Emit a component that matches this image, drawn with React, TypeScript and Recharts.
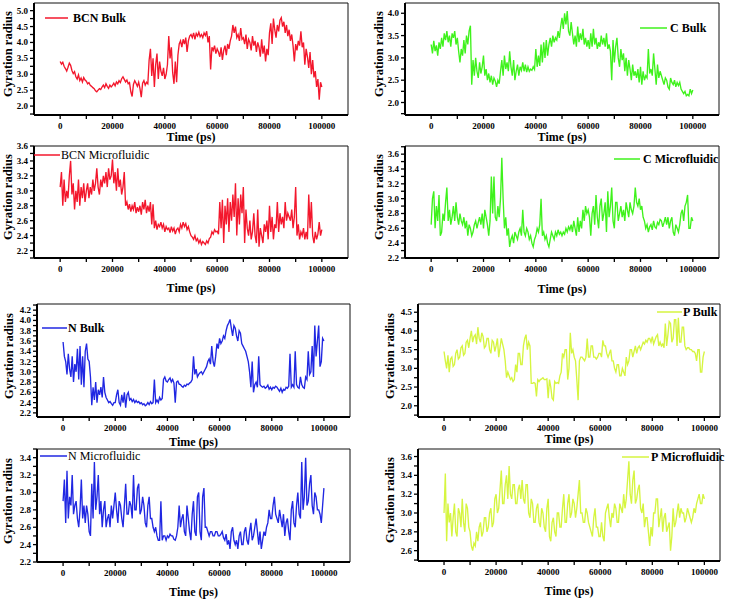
import { LineChart, Line, XAxis, YAxis, Legend, ReferenceArea, ReferenceLine } from 'recharts';

// sampling grid of the trajectories (ps)
const TIME_STEP_PS = 500;
const TIME_PS = Array.from({ length: 201 }, (_, i) => i * TIME_STEP_PS);
const TIME_TICKS = [0, 10000, 20000, 30000, 40000, 50000, 60000, 70000, 80000, 90000, 100000];

const BCN_BULK = [
  3.40, 3.32, 3.38, 3.25, 3.18, 3.10, 3.22, 3.35, 3.28, 3.12,
  3.02, 3.08, 2.92, 2.85, 2.98, 2.80, 2.88, 2.76, 2.90, 2.82,
  2.78, 2.70, 2.74, 2.65, 2.62, 2.58, 2.55, 2.48, 2.45, 2.50,
  2.55, 2.52, 2.60, 2.66, 2.58, 2.70, 2.62, 2.56, 2.66, 2.60,
  2.65, 2.72, 2.64, 2.76, 2.70, 2.80, 2.74, 2.86, 2.92, 2.84,
  2.76, 2.82, 2.70, 2.74, 2.45, 2.30, 2.68, 2.80, 2.72, 2.62,
  2.75, 2.55, 2.28, 2.72, 2.80, 2.66, 2.75, 2.70, 3.45, 3.80,
  2.95, 3.50, 2.60, 3.30, 3.65, 2.85, 3.40, 3.10, 2.95, 3.20,
  2.85, 3.00, 3.30, 4.20, 3.50, 3.85, 3.05, 2.70, 3.40, 2.75,
  3.60, 3.95, 4.05, 3.85, 4.10, 3.95, 4.15, 3.70, 4.05, 4.20,
  4.25, 4.15, 4.30, 4.10, 4.28, 4.20, 4.32, 4.18, 4.25, 4.15,
  4.30, 4.22, 4.35, 4.00, 4.20, 3.15, 3.85, 3.75, 3.90, 3.65,
  3.80, 3.70, 3.55, 3.85, 3.45, 3.75, 3.90, 3.60, 3.95, 3.80,
  4.05, 4.20, 4.55, 4.30, 4.50, 4.15, 4.25, 4.05, 4.45, 4.10,
  4.15, 3.95, 4.25, 3.80, 4.10, 4.00, 3.75, 4.20, 3.90, 4.05,
  3.70, 4.00, 3.85, 3.55, 4.10, 3.65, 3.90, 3.40, 3.80, 3.60,
  4.30, 4.60, 3.95, 4.75, 4.40, 4.15, 4.55, 4.35, 4.70, 4.78,
  4.50, 4.65, 4.30, 4.55, 4.20, 4.40, 4.05, 4.25, 3.90, 3.40,
  3.95, 3.75, 4.05, 3.90, 4.35, 3.85, 4.00, 3.30, 3.80, 3.55,
  3.20, 3.70, 3.00, 3.45, 2.90, 3.10, 2.60, 2.85, 2.20, 2.75,
  2.60,
];

const C_BULK = [
  3.30, 3.10, 3.38, 3.15, 3.28, 3.05, 3.35, 3.20, 3.45, 3.25,
  3.55, 3.40, 3.60, 3.35, 3.50, 3.25, 3.55, 3.45, 3.60, 3.30,
  3.45, 3.15, 2.90, 3.20, 3.05, 3.40, 3.10, 3.50, 3.30, 3.60,
  3.72, 2.40, 2.95, 2.60, 3.00, 2.70, 2.55, 2.90, 2.65, 2.80,
  3.05, 2.60, 2.75, 2.50, 2.65, 2.45, 2.60, 2.40, 2.55, 2.48,
  2.35, 2.50, 2.42, 2.70, 2.95, 2.60, 3.05, 2.75, 2.90, 2.70,
  3.15, 2.80, 2.60, 2.95, 2.50, 2.70, 2.85, 2.60, 2.80, 2.72,
  2.90, 2.70, 2.85, 2.68, 2.80, 2.70, 2.75, 2.72, 2.80, 2.74,
  3.20, 2.80, 3.05, 2.82, 3.30, 2.90, 3.35, 3.00, 3.40, 3.05,
  3.30, 3.45, 3.25, 3.50, 3.35, 3.45, 3.40, 3.60, 3.45, 3.70,
  3.90, 3.65, 4.00, 3.75, 4.05, 3.60, 3.50, 3.80, 3.55, 3.30,
  3.50, 3.25, 3.70, 3.35, 3.55, 3.40, 3.65, 3.30, 3.45, 3.25,
  3.40, 3.20, 3.55, 3.25, 3.65, 3.30, 3.45, 3.20, 3.35, 3.25,
  3.50, 3.30, 3.45, 3.25, 3.55, 3.20, 3.30, 3.15, 2.50, 3.40,
  2.90, 3.25, 3.45, 3.00, 2.80, 3.20, 2.95, 3.10, 2.70, 3.00,
  2.60, 2.95, 2.75, 2.50, 2.85, 2.60, 2.70, 2.55, 2.75, 2.45,
  2.80, 2.40, 2.70, 2.50, 2.60, 2.55, 3.20, 2.65, 2.75, 2.60,
  3.10, 2.75, 2.40, 2.85, 2.55, 2.70, 2.60, 2.50, 2.40, 2.55,
  2.50, 2.35, 2.30, 2.55, 2.45, 2.40, 2.50, 2.35, 2.45, 2.38,
  2.45, 2.30, 2.25, 2.20, 2.25, 2.15, 2.18, 2.15, 2.30, 2.20,
  2.28,
];

const BCN_MICRO = [
  3.05, 3.25, 2.80, 3.15, 2.85, 3.00, 2.90, 3.20, 3.40, 2.95,
  3.10, 2.75, 3.00, 2.85, 3.15, 2.80, 3.05, 2.90, 3.10, 2.85,
  3.00, 3.10, 2.90, 3.05, 2.95, 3.15, 3.00, 3.10, 3.30, 3.05,
  2.95, 3.15, 3.05, 3.20, 3.10, 3.25, 3.05, 3.30, 3.15, 3.20,
  3.42, 3.10, 3.25, 3.00, 3.30, 3.05, 3.15, 2.95, 3.05, 3.25,
  2.80, 2.85, 2.75, 2.82, 2.72, 2.80, 2.75, 2.85, 2.70, 2.78,
  2.72, 2.80, 2.68, 2.85, 2.75, 2.88, 2.70, 2.80, 2.72, 2.85,
  2.55, 2.82, 2.50, 2.60, 2.48, 2.55, 2.52, 2.58, 2.50, 2.55,
  2.45, 2.52, 2.48, 2.50, 2.44, 2.52, 2.46, 2.50, 2.42, 2.48,
  2.50, 2.45, 2.55, 2.50, 2.58, 2.52, 2.56, 2.48, 2.52, 2.45,
  2.40, 2.38, 2.35, 2.40, 2.33, 2.36, 2.30, 2.34, 2.28, 2.32,
  2.30, 2.28, 2.33, 2.30, 2.36, 2.38, 2.45, 2.42, 2.48, 2.45,
  2.46, 2.42, 2.85, 2.50, 2.88, 2.30, 2.80, 2.55, 2.90, 2.45,
  2.85, 2.60, 2.95, 2.65, 3.10, 2.40, 2.90, 2.55, 2.95, 2.70,
  3.05, 2.30, 2.75, 2.50, 2.40, 2.60, 2.35, 2.45, 2.70, 2.40,
  2.30, 2.75, 2.25, 2.50, 2.40, 2.30, 2.55, 2.45, 2.60, 2.35,
  2.80, 2.45, 2.65, 2.35, 2.55, 2.50, 2.85, 2.45, 2.70, 2.55,
  2.65, 2.50, 2.85, 2.60, 2.70, 2.65, 2.60, 2.75, 2.50, 2.65,
  3.05, 2.40, 2.55, 2.35, 2.45, 2.40, 2.50, 2.35, 2.45, 2.35,
  2.95, 2.50, 2.85, 2.40, 2.30, 2.45, 2.35, 2.42, 2.58, 2.40,
  2.48,
];

const C_MICRO = [
  2.65, 3.00, 3.10, 2.60, 2.90, 2.70, 3.05, 2.50, 2.55, 2.80,
  2.70, 2.95, 3.15, 2.70, 2.85, 2.65, 2.75, 2.90, 2.70, 2.95,
  2.75, 2.65, 2.80, 2.70, 2.65, 2.75, 2.60, 2.70, 2.50, 2.65,
  2.60, 2.50, 2.55, 2.65, 2.70, 2.60, 2.68, 2.75, 2.65, 2.80,
  2.60, 2.85, 2.75, 2.65, 2.50, 2.70, 3.30, 2.80, 3.30, 2.75,
  2.70, 2.90, 2.75, 3.00, 3.55, 3.00, 2.60, 2.75, 2.50, 2.60,
  2.35, 2.45, 2.50, 2.40, 2.55, 2.50, 2.45, 2.55, 2.60, 2.50,
  2.85, 2.55, 2.50, 2.60, 2.55, 2.45, 2.50, 2.40, 2.35, 2.45,
  2.50, 2.60, 2.55, 2.65, 3.00, 2.50, 2.55, 2.45, 2.50, 2.40,
  2.35, 2.45, 2.55, 2.50, 2.45, 2.55, 2.50, 2.58, 2.52, 2.55,
  2.50, 2.55, 2.52, 2.60, 2.55, 2.62, 2.58, 2.65, 2.55, 2.70,
  2.60, 2.50, 2.75, 2.55, 2.70, 2.60, 2.85, 2.70, 2.90, 2.80,
  2.85, 2.75, 2.50, 2.80, 2.90, 2.65, 3.05, 2.75, 2.60, 2.90,
  3.00, 2.70, 2.80, 2.95, 2.55, 3.10, 2.75, 2.90, 3.15, 2.70,
  2.60, 2.95, 2.95, 2.70, 2.80, 2.90, 2.75, 2.85, 2.70, 2.95,
  2.85, 2.75, 2.95, 2.85, 2.80, 2.90, 3.15, 2.95, 2.90, 3.00,
  2.85, 2.90, 2.75, 2.70, 2.60, 2.65, 2.55, 2.62, 2.65, 2.58,
  2.70, 2.62, 2.60, 2.68, 2.65, 2.72, 2.70, 2.62, 2.68, 2.75,
  2.65, 2.75, 2.60, 2.70, 2.75, 2.55, 2.50, 2.65, 2.60, 2.55,
  2.65, 2.80, 2.85, 2.70, 2.90, 2.95, 3.05, 2.60, 2.60, 2.75,
  2.70,
];

const N_BULK = [
  3.58, 3.30, 3.20, 2.95, 3.35, 3.05, 2.90, 3.30, 2.80, 3.15,
  3.00, 3.45, 2.85, 3.50, 2.75, 3.30, 2.70, 3.40, 3.55, 3.25,
  3.20, 2.90, 2.35, 2.70, 2.45, 2.80, 2.40, 2.65, 2.55, 2.70,
  2.50, 2.90, 2.60, 2.50, 2.45, 2.40, 2.42, 2.38, 2.35, 2.40,
  2.40, 2.55, 2.65, 2.40, 2.35, 2.55, 2.40, 2.60, 2.30, 2.55,
  2.60, 2.45, 2.48, 2.42, 2.46, 2.40, 2.44, 2.40, 2.42, 2.38,
  2.40, 2.36, 2.38, 2.34, 2.36, 2.40, 2.36, 2.42, 2.38, 2.40,
  2.85, 2.40, 2.45, 2.40, 2.50, 2.45, 2.48, 2.85, 2.90, 2.82,
  2.80, 2.85, 2.88, 2.80, 2.85, 2.78, 2.40, 2.80, 2.82, 2.76,
  2.75, 2.72, 2.70, 2.74, 2.72, 2.76, 2.75, 2.78, 2.80, 2.85,
  3.30, 2.95, 3.05, 2.90, 2.95, 2.98, 3.00, 2.95, 3.00, 3.05,
  3.10, 3.20, 3.25, 3.15, 3.50, 3.20, 3.10, 3.30, 3.55, 3.45,
  3.65, 3.55, 3.60, 3.70, 3.65, 3.80, 3.90, 3.95, 4.02, 3.85,
  3.70, 3.90, 3.85, 3.70, 3.60, 3.80, 3.75, 3.55, 3.50, 3.45,
  3.40, 3.30, 3.20, 3.00, 2.70, 3.20, 2.60, 2.75, 2.80, 2.70,
  3.30, 2.75, 2.72, 2.70, 2.72, 2.68, 2.70, 2.74, 2.66, 2.70,
  2.65, 2.70, 2.68, 2.72, 2.70, 2.66, 2.62, 2.68, 2.60, 2.66,
  2.64, 2.70, 2.68, 2.72, 3.35, 2.70, 2.75, 2.70, 3.40, 2.75,
  2.70, 2.68, 2.90, 2.75, 2.70, 2.68, 2.90, 2.85, 3.40, 2.95,
  3.00, 3.50, 2.90, 3.90, 3.30, 3.60, 3.90, 3.10, 3.20, 3.65,
  3.60,
];

const P_BULK = [
  3.45, 3.20, 3.00, 3.35, 2.90, 3.25, 3.30, 3.05, 3.10, 3.40,
  3.50, 3.25, 3.30, 3.55, 3.60, 3.35, 3.40, 3.70, 3.75, 3.55,
  3.80, 4.00, 3.70, 3.85, 3.90, 3.65, 4.10, 3.80, 3.70, 3.95,
  3.85, 3.55, 3.60, 3.80, 3.80, 3.50, 3.40, 3.75, 3.70, 3.45,
  3.60, 3.80, 3.30, 3.55, 3.80, 3.65, 3.50, 3.20, 2.75, 2.90,
  2.80, 2.70, 2.75, 2.65, 2.70, 3.10, 2.90, 3.40, 3.40, 3.10,
  3.10, 3.60, 3.80, 3.90, 3.50, 3.70, 3.60, 2.60, 2.60, 2.62,
  2.60, 2.25, 2.70, 2.65, 2.70, 2.72, 2.75, 2.70, 2.70, 2.72,
  2.20, 2.70, 2.50, 2.20, 2.15, 2.65, 2.60, 2.62, 2.60, 2.80,
  2.90, 3.40, 3.30, 3.50, 3.50, 2.70, 3.00, 3.95, 3.40, 3.50,
  3.30, 3.20, 2.70, 2.15, 3.20, 3.30, 3.30, 3.25, 3.20, 3.30,
  3.80, 3.30, 3.30, 3.60, 3.60, 3.30, 3.30, 3.25, 3.30, 3.40,
  3.40, 3.30, 3.75, 3.60, 3.60, 3.40, 3.30, 3.40, 3.50, 3.20,
  3.20, 3.00, 2.90, 3.10, 3.10, 2.80, 2.80, 3.00, 2.90, 2.80,
  3.30, 3.10, 3.20, 3.50, 3.50, 3.30, 3.45, 3.60, 3.40, 3.55,
  3.60, 3.50, 3.60, 3.70, 3.65, 3.75, 3.70, 3.80, 3.80, 3.70,
  3.85, 3.65, 3.75, 3.85, 3.90, 3.60, 3.70, 3.60, 3.65, 3.55,
  4.20, 3.60, 3.90, 4.25, 4.20, 3.70, 3.80, 4.30, 4.30, 3.60,
  4.35, 3.70, 3.70, 4.10, 4.10, 3.60, 3.50, 3.55, 3.55, 3.50,
  3.50, 3.45, 3.45, 3.40, 3.20, 3.50, 3.50, 2.90, 2.90, 3.30,
  3.45,
];

const N_MICRO = [
  2.90, 3.15, 2.65, 3.25, 2.70, 2.95, 2.85, 3.20, 2.75, 2.85,
  2.90, 2.70, 2.60, 2.80, 3.15, 2.70, 2.85, 2.65, 2.85, 2.75,
  2.55, 2.50, 3.10, 2.70, 3.35, 2.80, 2.95, 3.20, 2.75, 2.90,
  2.60, 2.80, 2.90, 2.60, 2.70, 2.75, 2.60, 2.85, 2.70, 2.85,
  3.00, 2.80, 2.65, 2.90, 2.85, 2.70, 2.60, 2.85, 3.10, 2.75,
  2.75, 2.90, 2.85, 2.70, 3.20, 2.80, 2.80, 3.05, 3.10, 2.75,
  2.80, 2.95, 2.85, 2.65, 2.60, 2.85, 2.95, 2.70, 2.70, 2.60,
  2.55, 2.60, 2.50, 2.45, 2.45, 2.90, 2.45, 2.50, 2.50, 2.45,
  2.50, 2.48, 2.52, 2.50, 2.50, 2.46, 2.45, 2.50, 2.60, 2.85,
  2.60, 2.70, 2.75, 2.55, 2.50, 2.85, 2.70, 2.55, 2.45, 2.75,
  2.90, 2.55, 2.50, 2.95, 3.00, 2.55, 2.45, 2.95, 3.05, 2.60,
  2.60, 2.55, 2.50, 2.55, 2.55, 2.50, 2.50, 2.55, 2.55, 2.50,
  2.50, 2.52, 2.55, 2.48, 2.45, 2.52, 2.40, 2.45, 2.35, 2.55,
  2.60, 2.45, 2.40, 2.45, 2.35, 2.50, 2.55, 2.40, 2.40, 2.55,
  2.60, 2.45, 2.40, 2.55, 2.65, 2.45, 2.50, 2.60, 2.70, 2.55,
  2.40, 2.55, 2.35, 2.45, 2.55, 2.50, 2.60, 2.65, 2.80, 2.70,
  2.70, 2.85, 2.95, 2.75, 2.70, 2.65, 2.80, 2.70, 2.60, 2.75,
  2.50, 2.65, 2.70, 2.55, 2.45, 2.80, 2.90, 2.65, 2.60, 2.85,
  3.00, 2.75, 2.70, 3.35, 2.80, 2.95, 3.40, 2.85, 2.90, 3.10,
  3.20, 2.85, 2.75, 3.00, 2.95, 2.80, 2.80, 2.75, 2.65, 2.85,
  3.05,
];

const P_MICRO = [
  3.00, 3.42, 2.70, 3.10, 2.90, 3.00, 2.75, 2.95, 3.10, 2.80,
  2.75, 3.05, 3.00, 2.85, 3.15, 2.90, 2.80, 3.10, 3.05, 2.85,
  2.80, 2.65, 2.60, 2.68, 2.65, 2.80, 2.70, 2.85, 2.90, 2.75,
  2.80, 2.95, 2.95, 2.80, 2.85, 3.00, 3.05, 2.85, 2.90, 3.15,
  3.20, 3.00, 3.05, 3.25, 3.45, 3.10, 3.10, 3.30, 3.40, 3.15,
  3.50, 3.20, 3.15, 3.30, 3.30, 3.10, 3.10, 3.25, 3.30, 3.15,
  3.35, 3.15, 3.10, 3.30, 3.30, 3.00, 2.95, 3.15, 3.10, 2.90,
  2.90, 3.05, 3.10, 2.90, 2.85, 3.05, 3.00, 2.85, 2.80, 3.05,
  3.15, 2.75, 2.70, 2.90, 2.95, 2.80, 2.75, 3.00, 3.00, 2.85,
  2.85, 3.05, 3.20, 2.90, 2.90, 3.10, 3.20, 2.95, 3.00, 3.15,
  3.10, 2.95, 3.05, 3.20, 3.35, 3.00, 3.00, 2.90, 2.90, 3.05,
  3.00, 2.90, 2.85, 2.80, 2.75, 2.95, 3.05, 2.85, 2.85, 2.75,
  2.75, 2.90, 2.75, 2.70, 3.00, 3.05, 3.10, 2.95, 2.85, 3.00,
  2.95, 3.10, 3.05, 2.90, 2.90, 3.10, 3.05, 3.00, 3.20, 3.05,
  3.15, 3.35, 3.55, 3.20, 3.10, 3.35, 3.45, 3.10, 3.15, 3.25,
  3.30, 3.05, 3.00, 3.10, 2.85, 2.95, 2.95, 2.80, 2.65, 2.85,
  2.75, 3.00, 3.00, 3.15, 3.15, 2.85, 2.95, 3.05, 2.80, 2.95,
  3.00, 2.80, 2.85, 2.90, 2.60, 2.75, 3.05, 2.85, 2.90, 3.00,
  3.10, 2.95, 3.05, 3.00, 3.00, 2.90, 2.95, 3.05, 3.00, 2.95,
  2.90, 2.95, 3.05, 3.00, 3.10, 3.15, 3.20, 3.10, 3.10, 3.20,
  3.15,
];

const BCN_BULK_YTICKS = [2.0, 2.5, 3.0, 3.5, 4.0, 4.5, 5.0];
const C_BULK_YTICKS = [2.0, 2.5, 3.0, 3.5, 4.0];
const BCN_MICRO_YTICKS = [2.2, 2.4, 2.6, 2.8, 3.0, 3.2, 3.4, 3.6];
const C_MICRO_YTICKS = [2.2, 2.4, 2.6, 2.8, 3.0, 3.2, 3.4, 3.6];
const N_BULK_YTICKS = [2.2, 2.4, 2.6, 2.8, 3.0, 3.2, 3.4, 3.6, 3.8, 4.0, 4.2];
const P_BULK_YTICKS = [2.0, 2.5, 3.0, 3.5, 4.0, 4.5];
const N_MICRO_YTICKS = [2.2, 2.4, 2.6, 2.8, 3.0, 3.2, 3.4];
const P_MICRO_YTICKS = [2.6, 2.8, 3.0, 3.2, 3.4, 3.6];

const RED = '#f3172c';
const GREEN = '#3ff21c';
const BLUE = '#2027e2';
const YELLOW = '#d6f540';

const FONT = '"Liberation Serif", "Times New Roman", serif';

type Panel = {
  name: string;
  values: number[];
  color: string;
  box: [number, number, number, number]; // chart x, y, w, h (page px)
  plot: [number, number, number, number]; // left, right, top, bottom (page px)
  titleBase: number;
  yTitleX: number;
  xDomain: [number, number];
  yDomain: [number, number];
  yMajor: number[];
  legend: [number, number, number, number]; // line x1, x2, y, text x
  bold: boolean;
};

const PANELS: Panel[] = [
  { name: 'BCN Bulk', values: BCN_BULK, color: RED, box: [0, 0, 360, 150], plot: [34, 348, 3, 115], titleBase: 141, yTitleX: 8, xDomain: [-10000, 110000], yDomain: [1.72, 5.24], yMajor: BCN_BULK_YTICKS, legend: [45, 68, 18, 73], bold: true },
  { name: 'C Bulk', values: C_BULK, color: GREEN, box: [367, 0, 367, 150], plot: [405, 719, 3, 115], titleBase: 141, yTitleX: 379, xDomain: [-10000, 110000], yDomain: [1.72, 4.23], yMajor: C_BULK_YTICKS, legend: [640, 667, 28, 670], bold: true },
  { name: 'BCN Microfluidic', values: BCN_MICRO, color: RED, box: [0, 140, 360, 160], plot: [34, 348, 146, 258], titleBase: 292, yTitleX: 8, xDomain: [-10000, 110000], yDomain: [2.1, 3.6], yMajor: BCN_MICRO_YTICKS, legend: [34, 60, 155, 61], bold: false },
  { name: 'C Microfluidic', values: C_MICRO, color: GREEN, box: [367, 140, 367, 160], plot: [405, 719, 146, 258], titleBase: 293, yTitleX: 379, xDomain: [-10000, 110000], yDomain: [2.2, 3.71], yMajor: C_MICRO_YTICKS, legend: [614, 640, 159, 643], bold: true },
  { name: 'N Bulk', values: N_BULK, color: BLUE, box: [0, 295, 360, 155], plot: [37, 350, 304, 417], titleBase: 446, yTitleX: 9, xDomain: [-10000, 110000], yDomain: [2.12, 4.32], yMajor: N_BULK_YTICKS, legend: [42, 67, 328, 68], bold: true },
  { name: 'P Bulk', values: P_BULK, color: YELLOW, box: [367, 295, 367, 155], plot: [418, 720, 304, 417], titleBase: 443, yTitleX: 390, xDomain: [-10000, 106000], yDomain: [1.7, 4.72], yMajor: P_BULK_YTICKS, legend: [657, 682, 312, 683], bold: true },
  { name: 'N Microfluidic', values: N_MICRO, color: BLUE, box: [0, 440, 360, 160], plot: [37, 350, 449, 562], titleBase: 596, yTitleX: 8, xDomain: [-10000, 110000], yDomain: [2.2, 3.5], yMajor: N_MICRO_YTICKS, legend: [40, 67, 456, 68], bold: false },
  { name: 'P Microfluidic', values: P_MICRO, color: YELLOW, box: [367, 440, 367, 160], plot: [418, 720, 449, 561], titleBase: 595, yTitleX: 390, xDomain: [-10000, 106000], yDomain: [2.49, 3.68], yMajor: P_MICRO_YTICKS, legend: [622, 649, 457, 651], bold: true },
];

// majors plus the half-way minor ticks that fall inside the domain
function withMinors(majors: number[], domain: [number, number]) {
  const step = majors[1] - majors[0];
  const out: number[] = [majors[0] - step / 2];
  majors.forEach((m) => {
    out.push(m, m + step / 2);
  });
  return out.filter((v) => v >= domain[0] - 1e-9 && v <= domain[1] + 1e-9);
}

const isMajor = (v: number, majors: number[]) => majors.some((m) => Math.abs(m - v) < 1e-6);

const titleStyle: React.CSSProperties = {
  position: 'absolute',
  fontFamily: FONT,
  fontWeight: 700,
  color: '#000',
  textAlign: 'center',
  whiteSpace: 'nowrap',
};

function ChartPanel({ p }: { p: Panel }) {
  const [bx, by, bw, bh] = p.box;
  const [l, r, t, b] = p.plot;
  const data = p.values.map((v, i) => ({ t: TIME_PS[i], v }));
  const yTicks = withMinors(p.yMajor, p.yDomain);
  const [lx1, lx2, ly, ltx] = p.legend;
  const cx = (l + r) / 2;
  const cy = (t + b) / 2;

  return (
    <>
      <div style={{ position: 'absolute', left: bx, top: by }}>
        <LineChart
          width={bw}
          height={bh}
          data={data}
          margin={{ top: t - by, right: bx + bw - r, bottom: by + bh - p.titleBase, left: 0 }}
        >
          <XAxis
            dataKey="t"
            type="number"
            domain={p.xDomain}
            allowDataOverflow
            ticks={TIME_TICKS}
            interval={0}
            height={p.titleBase - b}
            tickSize={4}
            tickMargin={1}
            tickLine={{ stroke: '#000', strokeWidth: 1.3 }}
            axisLine={{ stroke: '#000', strokeWidth: 1.8 }}
            tick={(props: any) => {
              const v = props.payload.value;
              if (v % 20000 !== 0) return <g />;
              return (
                <text x={props.x} y={props.y + 9} textAnchor="middle" fontFamily={FONT} fontWeight={700} fontSize={9} fill="#000">
                  {v}
                </text>
              );
            }}
          />
          <YAxis
            type="number"
            domain={p.yDomain}
            allowDataOverflow
            ticks={yTicks}
            interval={0}
            width={l - bx}
            tickSize={4}
            tickMargin={1}
            tickLine={{ stroke: '#000', strokeWidth: 1.3 }}
            axisLine={{ stroke: '#000', strokeWidth: 1.8 }}
            tick={(props: any) => {
              const v = props.payload.value;
              if (!isMajor(v, p.yMajor)) return <g />;
              return (
                <text x={props.x - 1} y={props.y + 3} textAnchor="end" fontFamily={FONT} fontWeight={700} fontSize={9} fill="#000">
                  {v.toFixed(1)}
                </text>
              );
            }}
          />
          <ReferenceArea
            x1={p.xDomain[0]}
            x2={p.xDomain[1]}
            y1={p.yDomain[0]}
            y2={p.yDomain[1]}
            ifOverflow="visible"
            stroke="#111"
            strokeWidth={1}
            fill="none"
            fillOpacity={0}
          />
          <ReferenceLine x={p.xDomain[0]} ifOverflow="visible" stroke="#000" strokeWidth={1.8} />
          <ReferenceLine y={p.yDomain[0]} ifOverflow="visible" stroke="#000" strokeWidth={1.8} />
          <Legend
            layout="vertical"
            align="center"
            verticalAlign="middle"
            wrapperStyle={{ left: lx1 - bx, top: ly - by - 9, width: 'auto', height: 'auto', lineHeight: 0 }}
            content={() => (
              <svg width={130} height={18} style={{ overflow: 'visible', display: 'block' }}>
                <line x1={0} x2={lx2 - lx1} y1={9} y2={9} stroke={p.color} strokeWidth={1.5} />
                <text x={ltx - lx1} y={13} fontFamily={FONT} fontWeight={p.bold ? 700 : 400} fontSize={12} fill="#000">
                  {p.name}
                </text>
              </svg>
            )}
          />
          <Line
            type="linear"
            dataKey="v"
            name={p.name}
            stroke={p.color}
            strokeWidth={1.35}
            dot={false}
            activeDot={false}
            isAnimationActive={false}
          />
        </LineChart>
      </div>
      <div style={{ ...titleStyle, left: cx - 60, width: 120, top: p.titleBase - 10, fontSize: 12, lineHeight: '12px' }}>
        Time (ps)
      </div>
      <div
        style={{
          ...titleStyle,
          left: p.yTitleX - 70,
          width: 140,
          top: cy - 12,
          height: 14,
          fontSize: 12.5,
          lineHeight: '14px',
          transform: 'rotate(-90deg)',
        }}
      >
        Gyration radius
      </div>
    </>
  );
}

export default function App() {
  return (
    <div style={{ position: 'absolute', left: 0, top: 0, width: 734, height: 600, background: '#fff' }}>
      {PANELS.map((p) => (
        <ChartPanel key={p.name} p={p} />
      ))}
    </div>
  );
}
